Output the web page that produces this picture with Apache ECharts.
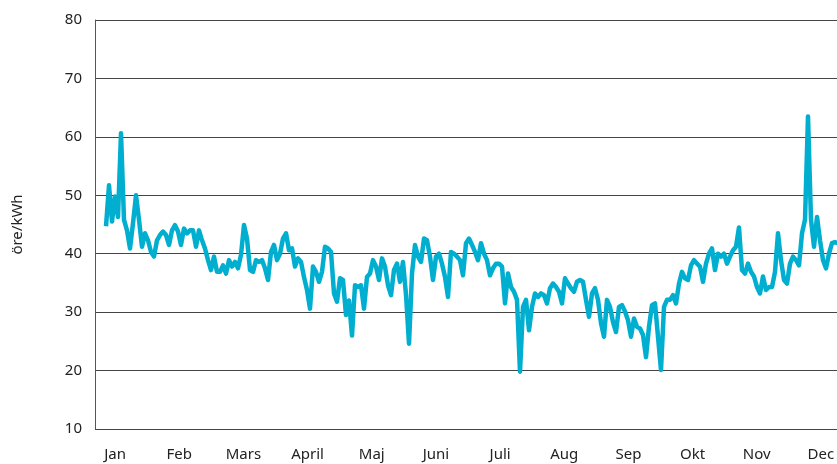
<!DOCTYPE html>
<html style="height: 100%">
<head>
	<meta charset="utf-8">
	<title>öre/kWh</title>
	<script src="https://cdn.jsdelivr.net/npm/echarts@6/dist/echarts.min.js"></script>
</head>
<body style="height: 100%; margin: 0; background: #fff">
	<div id="main" style="width: 837px; height: 464px"></div>
	<script type="text/javascript">

		// month labels on the x axis
		var months = ['Jan', 'Feb', 'Mars', 'April', 'Maj', 'Juni', 'Juli', 'Aug', 'Sep', 'Okt', 'Nov', 'Dec'];

		// y axis ticks
		var yTicks = [10, 20, 30, 40, 50, 60, 70, 80];

		// price readings, öre/kWh, in order through the year
		var prices = [
			44.7, 51.7, 45.5, 49.8, 46.3, 60.6, 45.8, 44, 40.9, 45.2, 50, 45.8, 41.2, 43.5, 42.3, 40.3, 39.5, 42.3, 43.2,
			43.8, 43.2, 41.5, 44, 44.9, 43.8, 41.5, 44.3, 43.5, 44, 44, 41.2, 44, 42.3, 40.9, 38.9, 37.2, 39.5, 36.9,
			36.9, 38, 36.6, 38.9, 37.8, 38.6, 37.5, 39.8, 44.9, 42.6, 37.2, 36.9, 38.9, 38.6, 38.9, 37.5, 35.5, 40.3, 41.5, 38.9,
			40, 42.6, 43.5, 40.6, 40.9, 37.8, 39.2, 38.6, 36, 33.8, 30.6, 37.8, 36.9, 35.2, 36.9, 41.2, 40.9, 40.3, 33.2, 31.8,
			35.8, 35.5, 29.5, 32, 26, 34.6, 34.3, 34.6, 30.6, 36, 36.6, 38.9, 37.8, 35.5, 39.2, 37.8, 34.6, 32.9, 37.2, 38.3,
			35.2, 38.6, 33, 24.6, 36.6, 41.5, 39.5, 38.6, 42.6, 42.3, 39.5, 35.5, 39.5, 40, 38.3, 36, 32.6, 40.3, 40, 39.5,
			38.9, 36.3, 41.8, 42.6, 41.5, 40.3, 38.9, 41.8, 40, 38.9, 36.3, 37.5, 38.3, 38.3, 37.8, 31.5, 36.6, 34.3, 33.5, 32.1,
			19.8, 30.9, 32.1, 26.9, 30.9, 33.2, 32.6, 33.2, 32.9, 31.5, 34.1, 34.9, 34.3, 33.5, 31.5, 35.8, 34.9, 34.1, 33.5, 35.2,
			35.5, 35.2, 32.1, 29.2, 33.2, 34.1, 32.1, 28.1, 25.8, 32.1, 30.9, 28.3, 26.6, 30.9, 31.2, 30.1, 28.6, 25.8, 28.9, 27.5,
			27.2, 26.1, 22.3, 27.5, 31.2, 31.5, 25.8, 20.1, 30.9, 32.1, 32.1, 32.9, 31.5, 34.9, 36.9, 35.8, 35.5, 38, 38.9, 38.3,
			37.8, 35.2, 38.3, 40, 40.9, 37.2, 40, 39.5, 40, 38.3, 39.5, 40.6, 41.2, 44.5, 37.2, 36.6, 38.3, 36.9, 36.1, 34.3,
			33.2, 36.1, 33.8, 34.3, 34.3, 36.9, 43.5, 38.9, 35.5, 34.9, 38.3, 39.5, 38.9, 38, 43.5, 45.8, 63.5, 45.8, 41.2, 46.3,
			42.3, 38.9, 37.5, 40, 41.8, 42, 41.8
		];

		var font = 'Noto Sans';
		var textColor = '#222';

		var myChart = echarts.init(document.getElementById('main'));

		var option = {
			animation: false,
			backgroundColor: '#fff',
			grid: [
				{
					// plot area
					left: 95,
					right: 0,
					top: 20,
					bottom: 35,
					outerBoundsMode: 'none'
				},
				{
					// month label strip, one band per month, runs past the right edge
					left: 83,
					width: 770,
					top: 20,
					bottom: 35,
					outerBoundsMode: 'none'
				}
			],
			xAxis: [
				{
					type: 'value',
					gridIndex: 0,
					min: -11 / 3,
					max: -11 / 3 + 742 / 3,
					show: false
				},
				{
					type: 'category',
					gridIndex: 1,
					data: months,
					boundaryGap: true,
					axisLine: { show: false },
					axisTick: { show: false },
					splitLine: { show: false },
					axisLabel: {
						interval: 0,
						margin: 18,
						fontFamily: font,
						fontSize: 15,
						color: textColor
					}
				}
			],
			yAxis: [
				{
					type: 'value',
					gridIndex: 0,
					min: yTicks[0],
					max: yTicks[yTicks.length - 1],
					interval: 10,
					name: 'öre/kWh',
					nameLocation: 'middle',
					nameGap: 70,
					nameRotate: 90,
					nameTextStyle: {
						fontFamily: font,
						fontSize: 15,
						color: textColor
					},
					axisLine: {
						show: true,
						onZero: false,
						lineStyle: { color: '#555', width: 1 }
					},
					axisTick: { show: false },
					axisLabel: {
						margin: 13,
						fontFamily: font,
						fontSize: 15,
						color: textColor
					},
					splitLine: {
						show: true,
						lineStyle: { color: '#444', width: 1 }
					}
				},
				{
					type: 'value',
					gridIndex: 1,
					show: false
				}
			],
			series: [
				{
					type: 'line',
					xAxisIndex: 0,
					yAxisIndex: 0,
					data: prices.map(function (v, i) { return [i, v]; }),
					showSymbol: false,
					symbol: 'none',
					clip: true,
					lineStyle: {
						color: '#00aecf',
						width: 4.5,
						join: 'round'
					}
				}
			]
		};

		myChart.setOption(option);
	</script>
</body>
</html>
